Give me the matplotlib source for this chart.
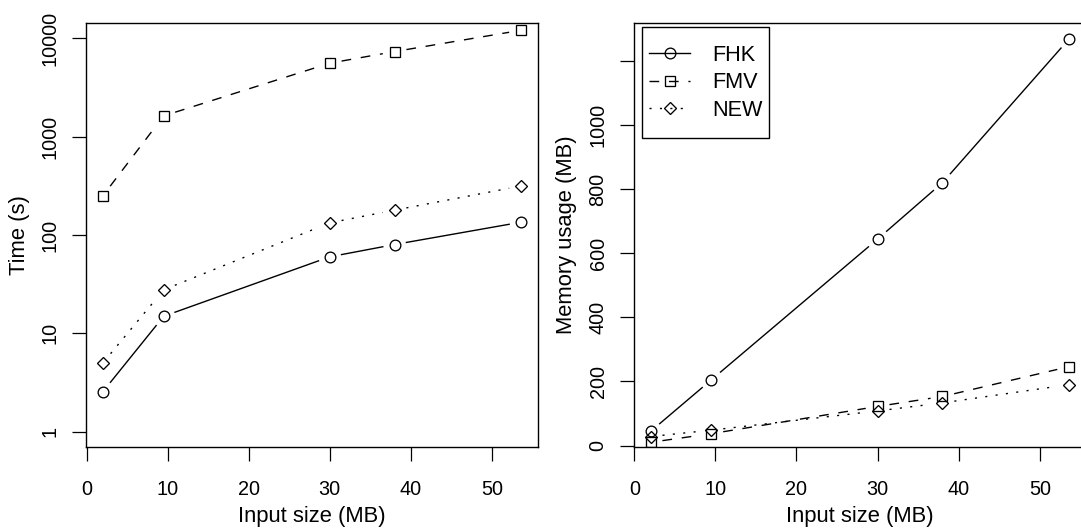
import numpy as np
import matplotlib.pyplot as plt
from matplotlib.lines import Line2D

plt.rcParams['font.family'] = 'Liberation Sans'

# data
input_size = [2, 9.5, 30, 38, 53.6]
series = ['FHK', 'FMV', 'NEW']
time_fhk = [2.55, 14.9, 60, 80, 135]
time_fmv = [251, 1630, 5600, 7350, 12100]
time_new = [5.0, 27.7, 133, 179, 315]
mem_fhk = [44, 205, 644, 820, 1268]
mem_fmv = [10, 37, 122, 153, 246]
mem_new = [28, 48, 108, 133, 190]

x_ticks = [0, 10, 20, 30, 40, 50]
time_ticks = [1, 10, 100, 1000, 10000]
time_tick_labels = ['1', '10', '100', '1000', '10000']
mem_ticks = [0, 200, 400, 600, 800, 1000, 1200]
mem_tick_labels = ['0', '200', '400', '600', '800', '1000', '']

styles = {
    'FHK': dict(marker='o', ms=7.7, ls='-'),
    'FMV': dict(marker='s', ms=6.7, ls=(0, (7, 7))),
    'NEW': dict(marker='D', ms=6.3, ls=(0, (1.5, 6))),
}

W, H = 1081, 531
TICK_FS = 14.3
LABEL_FS = 15.8


def gapped_lines(ax, x, y, ls, gap=12):
    # R type="b": segments stop short of the points
    pts = ax.transData.transform(np.column_stack([x, y]))
    inv = ax.transData.inverted()
    for p0, p1 in zip(pts[:-1], pts[1:]):
        d = p1 - p0
        length = np.hypot(*d)
        if length <= 2 * gap:
            continue
        u = d / length
        seg = inv.transform(np.array([p0 + u * gap, p1 - u * gap]))
        ax.plot(seg[:, 0], seg[:, 1], color='black', lw=1.0, ls=ls)


def draw_series(ax, x, y, name):
    st = styles[name]
    gapped_lines(ax, x, y, st['ls'])
    ax.plot(x, y, ls='none', marker=st['marker'], ms=st['ms'], mfc='none',
            mec='black', mew=0.95)


def style_axes(ax, ylabel):
    for sp in ax.spines.values():
        sp.set_linewidth(1.0)
    ax.tick_params(direction='out', length=10.3, width=0.9, labelsize=TICK_FS)
    ax.tick_params(axis='x', pad=13.5)
    ax.tick_params(axis='y', pad=8.6)
    ax.minorticks_off()
    ax.set_xticks(x_ticks)
    plt.setp(ax.get_yticklabels(), rotation=90, va='center')
    ax.set_xlabel('Input size (MB)', fontsize=LABEL_FS, va='baseline')
    ax.xaxis.set_label_coords(0.5, -0.177)
    ax.set_ylabel(ylabel, fontsize=LABEL_FS, va='center')
    ax.yaxis.set_label_coords(-0.148, 0.5)


fig = plt.figure(figsize=(W / 100, H / 100), dpi=100)
ax1 = fig.add_axes([86.2 / W, (H - 447.3) / H, 451.5 / W, 424.6 / H])
ax2 = fig.add_axes([633.8 / W, (H - 447.3) / H, 451.9 / W, 424.6 / H])

# left: running time, log scale
ax1.set_yscale('log')
ax1.set_xlim(-0.064, 55.664)
ax1.set_ylim(10 ** -0.16, 10 ** 4.16)
ax1.set_yticks(time_ticks)
ax1.set_yticklabels(time_tick_labels)
style_axes(ax1, 'Time (s)')
for name, vals in zip(series, [time_fhk, time_fmv, time_new]):
    draw_series(ax1, input_size, vals, name)

# right: memory usage
ax2.set_xlim(-0.064, 55.664)
ax2.set_ylim(-5.5, 1319)
ax2.set_yticks(mem_ticks)
ax2.set_yticklabels(mem_tick_labels)
style_axes(ax2, 'Memory usage (MB)')
for name, vals in zip(series, [mem_fhk, mem_fmv, mem_new]):
    draw_series(ax2, input_size, vals, name)

handles = [Line2D([], [], color='black', lw=1.0, ls=styles[n]['ls'],
                  marker=styles[n]['marker'], ms=styles[n]['ms'], mfc='none',
                  mew=0.95) for n in series]
leg = ax2.legend(handles, series, loc='upper left',
                 bbox_to_anchor=(0.0288, 0.9531), borderaxespad=0,
                 fontsize=15.6, handlelength=1.9, handletextpad=1.0,
                 borderpad=0.1, labelspacing=0.3, fancybox=False,
                 framealpha=1, edgecolor='black')
# R legends have more room above/below than at the sides
frame = leg.get_frame()
frame.set_linewidth(1.0)
frame.set_boxstyle('square', pad=0.22)
frame.set_mutation_aspect(3.2)

fig.savefig('out.png', dpi=100)
